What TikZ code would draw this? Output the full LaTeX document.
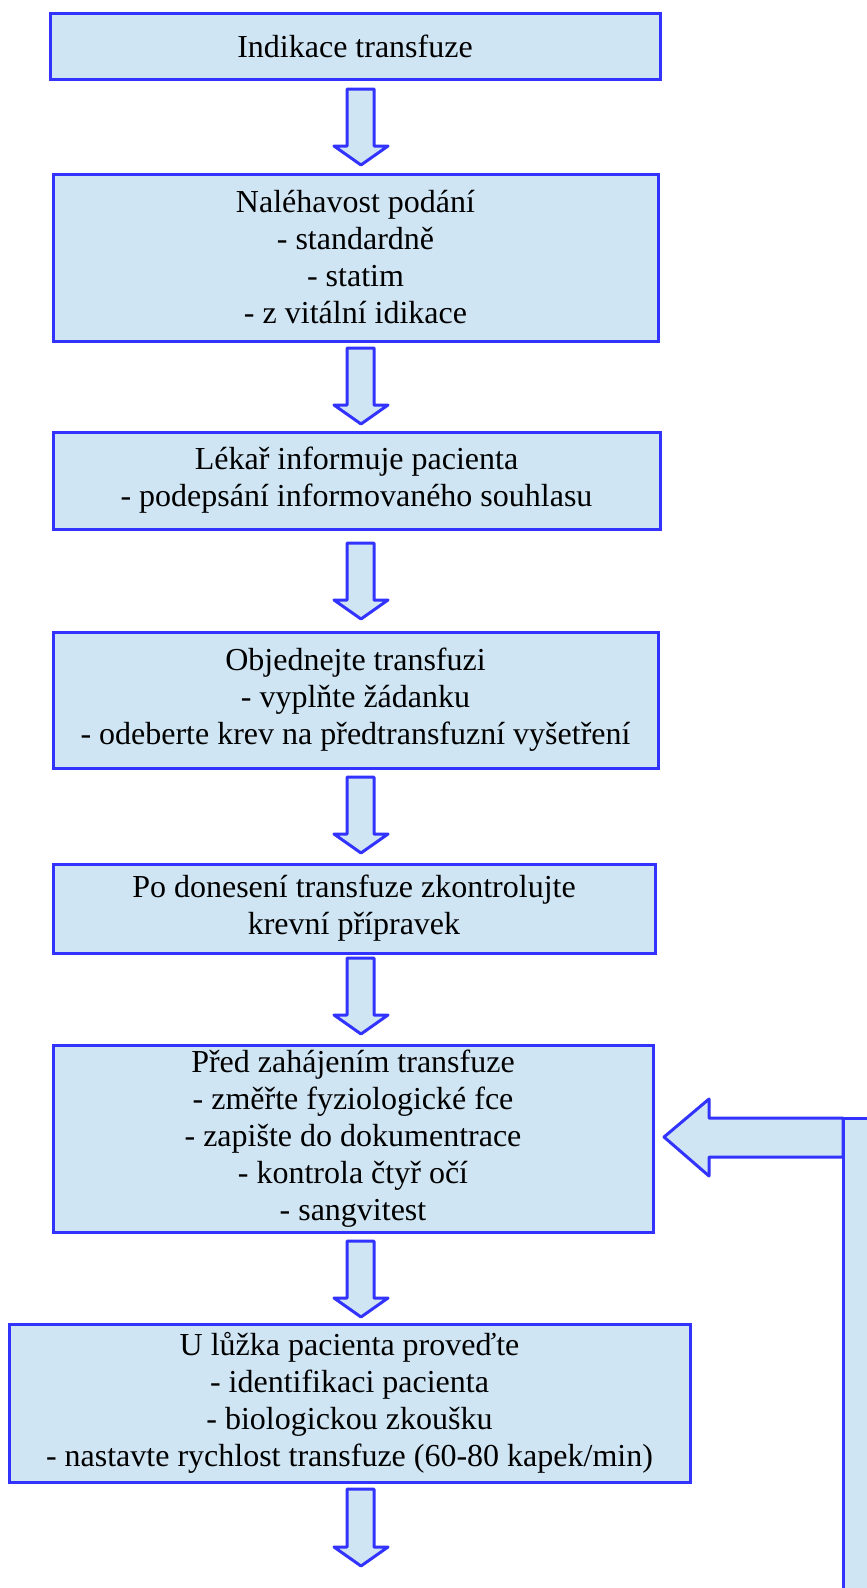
\documentclass[tikz,border=0pt]{standalone}
\usepackage{fontspec}
\setmainfont{Liberation Serif}
\definecolor{bordblue}{RGB}{51,51,255}
\definecolor{fillblue}{RGB}{207,229,243}
\tikzset{
  box/.style={draw=bordblue, fill=fillblue, line width=2.25pt, inner sep=0pt, align=center,
    font=\fontsize{24}{27.75}\selectfont, text=black},
  sz/.style 2 args={minimum width={#1*0.75pt}, minimum height={#2*0.75pt}},
  blk/.style={draw=bordblue, fill=fillblue, line width=2.25pt, line join=round}
}
\newcommand{\blockdown}[2]{%
  \draw[blk] (347,#1) -- (374,#1) -- (374,{#2-19}) -- (388,{#2-19}) -- (361,#2)
    -- (334,{#2-19}) -- (347,{#2-19}) -- cycle;}
\begin{document}
\begin{tikzpicture}[x=0.75pt,y=-0.75pt]
\useasboundingbox (0,0) rectangle (867,1588);
\clip (0,0) rectangle (867,1588);
\node[box, sz={610}{66}] (b1) at (355,46) {Indikace transfuze};
\node[box, sz={605}{167}] (b2) at (355.5,257.5) {Naléhavost podání\\- standardně\\- statim\\- z vitální idikace};
\node[box, sz={607}{97}] (b3) at (356.5,480.5) {Lékař informuje pacienta\\- podepsání informovaného souhlasu};
\node[box, sz={605}{136}] (b4) at (355.5,700) {Objednejte transfuzi\\- vyplňte žádanku\\- odeberte krev na předtransfuzní vyšetření};
\node[box, sz={602}{89}] (b5) at (354,908.5) {Po donesení transfuze zkontrolujte\\krevní přípravek};
\node[box, sz={600}{187}] (b6) at (353,1138.5) {Před zahájením transfuze\\- změřte fyziologické fce\\- zapište do dokumentrace\\- kontrola čtyř očí\\- sangvitest};
\node[box, sz={681}{158}] (b7) at (349.5,1403) {U lůžka pacienta proveďte\\- identifikaci pacienta\\- biologickou zkoušku\\- nastavte rychlost transfuze (60-80 kapek/min)};
\blockdown{89}{165}
\blockdown{348}{424}
\blockdown{543}{619}
\blockdown{777}{853}
\blockdown{958}{1034}
\blockdown{1241}{1317}
\blockdown{1489}{1566}
% return arrow from the right
\draw[blk] (843,1118) -- (709,1118) -- (709,1099) -- (664,1137) -- (709,1176)
  -- (709,1157) -- (843,1157) -- cycle;
\path[blk] (843,1118) rectangle (900,1650);
\end{tikzpicture}
\end{document}
